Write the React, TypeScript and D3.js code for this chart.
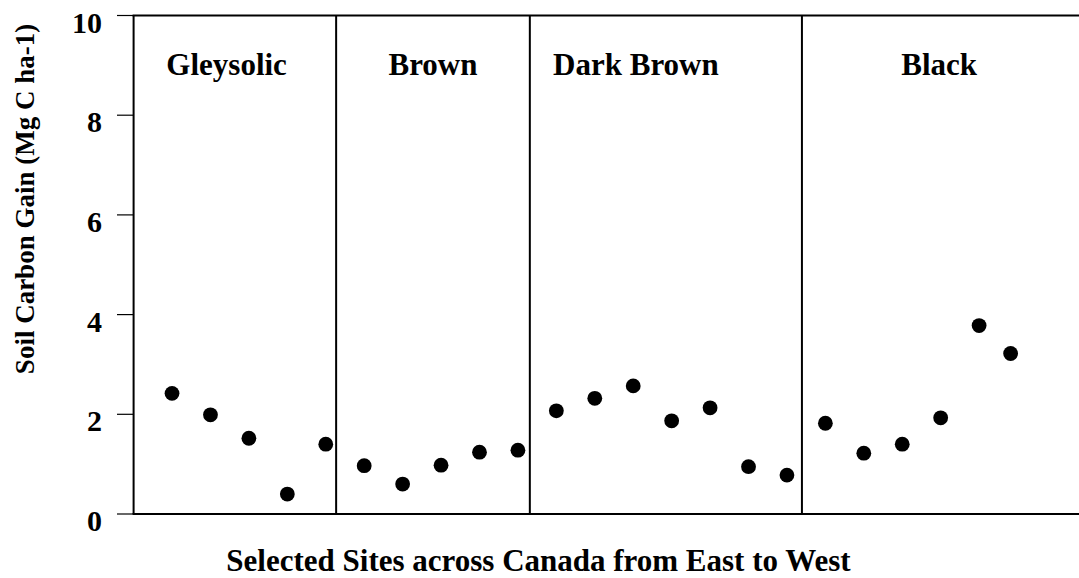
import React from "react";
import * as d3 from "d3";

// ---- data ----
const siteX: number[] = [1, 2, 3, 4, 5, 6, 7, 8, 9, 10, 11, 12, 13, 14, 15, 16, 17, 18, 19, 20, 21, 22, 22.82];
const carbonGain: number[] = [
  2.42, 1.99, 1.52, 0.4, 1.4,
  0.97, 0.6, 0.98, 1.24, 1.28,
  2.07, 2.32, 2.57, 1.87, 2.13, 0.95, 0.78,
  1.82, 1.22, 1.4, 1.93, 3.78, 3.22,
];
const soilGroups: string[] = ["Gleysolic", "Brown", "Dark Brown", "Black"];
const groupLabelX: number[] = [2.42, 7.79, 13.07, 20.96];
const dividerX: number[] = [5.27, 10.31, 17.39];
const yTicks: number[] = [0, 2, 4, 6, 8, 10];
const yTitle = "Soil Carbon Gain (Mg C ha-1)";
const xTitle = "Selected Sites across Canada from East to West";

const W = 1079;
const H = 578;
const FONT = "'Liberation Serif', 'Times New Roman', serif";

export default function App() {
  const x = d3.scaleLinear().domain([0, 25]).range([133.6, 1094.4]);
  const y = d3.scaleLinear().domain([0, 10]).range([514, 15.5]);
  const x0 = x(0);
  const xEnd = W;

  return (
    <svg
      width={W}
      height={H}
      style={{ position: "absolute", left: 0, top: 0, display: "block", background: "#fff" }}
      fontFamily={FONT}
      fontWeight="bold"
    >
      <rect x={0} y={0} width={W} height={H} fill="#fff" />
      {/* y ticks */}
      {yTicks.map((t) => (
        <g key={t}>
          <line x1={117} x2={x0} y1={y(t)} y2={y(t)} stroke="#000" strokeWidth={1.2} />
          <text x={102} y={y(t) + 17} textAnchor="end" fontSize={30} fill="#000">
            {t}
          </text>
        </g>
      ))}
      {/* frame: left axis, bottom axis, top line */}
      <line x1={x0} x2={x0} y1={y(10)} y2={y(0)} stroke="#000" strokeWidth={2} />
      <line x1={x0 - 1} x2={xEnd} y1={y(0)} y2={y(0)} stroke="#000" strokeWidth={2.2} />
      <line x1={x0 - 1} x2={xEnd} y1={y(10)} y2={y(10)} stroke="#000" strokeWidth={2} />
      {/* dividers */}
      {dividerX.map((d, i) => (
        <line key={i} x1={x(d)} x2={x(d)} y1={y(10)} y2={y(0)} stroke="#000" strokeWidth={2} />
      ))}
      {/* group labels */}
      {soilGroups.map((g, i) => (
        <text key={g} x={x(groupLabelX[i])} y={75} textAnchor="middle" fontSize={31} fill="#000">
          {g}
        </text>
      ))}
      {/* points */}
      {carbonGain.map((v, i) => (
        <circle key={i} cx={x(siteX[i])} cy={y(v)} r={7.4} fill="#000" />
      ))}
      {/* axis titles */}
      <text x={538.5} y={571} textAnchor="middle" fontSize={31} fill="#000">
        {xTitle}
      </text>
      <text
        transform={`translate(34, 199) rotate(-90)`}
        textAnchor="middle"
        fontSize={27}
        fill="#000"
      >
        {yTitle}
      </text>
    </svg>
  );
}
